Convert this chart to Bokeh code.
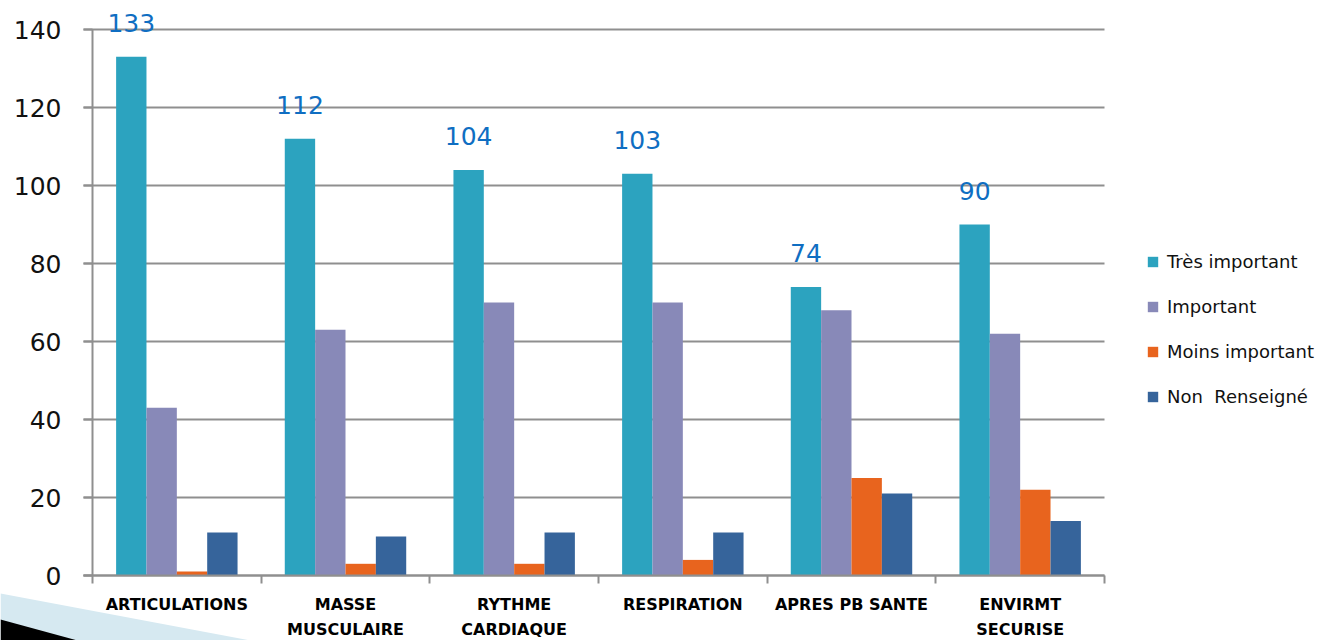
from bokeh.plotting import figure
from bokeh.models import (ColumnDataSource, FixedTicker, Legend, LegendItem,
                          PolyAnnotation, Range1d)
from bokeh.core.properties import value
from bokeh.embed import file_html
from bokeh.resources import INLINE

# Survey answers per theme
categories = ["ARTICULATIONS", "MASSE\nMUSCULAIRE", "RYTHME\nCARDIAQUE",
              "RESPIRATION", "APRES PB SANTE", "ENVIRMT\nSECURISE"]
series_names = ["Très important", "Important", "Moins important", "Non  Renseigné"]
tres_important = [133, 112, 104, 103, 74, 90]
important = [43, 63, 70, 70, 68, 62]
moins_important = [1, 3, 3, 4, 25, 22]
non_renseigne = [11, 10, 11, 11, 21, 14]
y_ticks = [0, 20, 40, 60, 80, 100, 120, 140]

series = [tres_important, important, moins_important, non_renseigne]
colors = ["#2CA3BF", "#8889B8", "#E8641E", "#36649B"]

W, H = 1317, 640
# pixel geometry: y axis at x=92, last group ends at x=1104, zero line at y=575
AXIS_PX, RIGHT_PX, ZERO_PX, PX_PER_UNIT = 92, 1104, 575, 3.9
TICK_OUT = 9
n = len(categories)
px_per_cat = (RIGHT_PX - AXIS_PX) / n

# the plotting frame covers the whole canvas; axes are pinned inside it
x_start = -AXIS_PX / px_per_cat
x_end = (W - AXIS_PX) / px_per_cat
y_start = -(H - ZERO_PX) / PX_PER_UNIT
y_end = ZERO_PX / PX_PER_UNIT
grid_start = -TICK_OUT / px_per_cat

BAR_W = 0.18
offsets = [-1.5 * BAR_W, -0.5 * BAR_W, 0.5 * BAR_W, 1.5 * BAR_W]
centers = [i + 0.5 for i in range(n)]

p = figure(width=W, height=H, output_backend="svg", toolbar_location=None,
           x_range=Range1d(x_start, x_end), y_range=Range1d(y_start, y_end),
           min_border=0, min_border_left=0, min_border_right=0,
           min_border_top=0, min_border_bottom=0)
p.outline_line_color = None
p.background_fill_color = "white"
p.border_fill_color = "white"

GRAY = "#8F8F8F"

# Horizontal grid, limited to the plotting area
p.xgrid.visible = False
p.ygrid.ticker = FixedTicker(ticks=y_ticks)
p.ygrid.cross_bounds = (grid_start, n)
p.ygrid.grid_line_color = GRAY
p.ygrid.grid_line_width = 2

# Y axis pinned at x = 0
yax = p.yaxis[0]
yax.fixed_location = 0
yax.ticker = FixedTicker(ticks=y_ticks)
yax.bounds = (0, 140)
yax.axis_line_color = GRAY
yax.axis_line_width = 2
yax.major_tick_line_color = GRAY
yax.major_tick_line_width = 2
yax.major_tick_out = TICK_OUT
yax.major_tick_in = 0
yax.minor_tick_line_color = None
yax.major_label_standoff = 22
yax.major_label_text_font = "DejaVu Sans"
yax.major_label_text_font_size = "25px"
yax.major_label_text_color = "#111111"

# X axis pinned at y = 0: labels at group centres, ticks at group boundaries
xax = p.xaxis[0]
xax.fixed_location = 0
xax.ticker = FixedTicker(ticks=centers, minor_ticks=list(range(n + 1)))
xax.major_label_overrides = {c: lab for c, lab in zip(centers, categories)}
xax.bounds = (grid_start, n)
xax.axis_line_color = GRAY
xax.axis_line_width = 2
xax.major_tick_line_color = None
xax.major_tick_out = 0
xax.major_tick_in = 0
xax.minor_tick_line_color = GRAY
xax.minor_tick_line_width = 2
xax.minor_tick_out = 8
xax.minor_tick_in = 0
xax.major_label_standoff = 11
xax.major_label_text_font = "DejaVu Sans"
xax.major_label_text_font_style = "bold"
xax.major_label_text_font_size = "16px"
xax.major_label_text_color = "#000000"
xax.major_label_text_line_height = 1.35

# Bars
items = []
for name, vals, col, off in zip(series_names, series, colors, offsets):
    src = ColumnDataSource(dict(x=[c + off for c in centers], top=vals))
    r = p.vbar(x="x", top="top", width=BAR_W, source=src,
               fill_color=col, line_color=None)
    items.append(LegendItem(label=name, renderers=[r]))

# Value labels above the "Très important" bars
lab_src = ColumnDataSource(dict(x=[c + offsets[0] for c in centers], y=tres_important,
                                t=[str(v) for v in tres_important]))
p.text(x="x", y="y", text="t", source=lab_src, text_align="center",
       text_baseline="middle", y_offset=-34, text_color="#0F6EC2",
       text_font=value("DejaVu Sans"), text_font_size="25px")

legend = Legend(items=items, location=(1146, H - 407), orientation="vertical",
                glyph_width=13, glyph_height=13, label_height=20, spacing=24,
                label_standoff=8, padding=0, margin=0,
                label_text_font="DejaVu Sans",
                label_text_font_size="18px", label_text_color="#111111",
                border_line_color=None, background_fill_alpha=0)
p.add_layout(legend)

# Slide corner decoration
p.add_layout(PolyAnnotation(xs=[0, 250, 0], ys=[593, 640, 640],
                            xs_units="canvas", ys_units="canvas",
                            fill_color="#D6E9F1", fill_alpha=1, line_color=None))
p.add_layout(PolyAnnotation(xs=[0, 77, 0], ys=[619, 640, 640],
                            xs_units="canvas", ys_units="canvas",
                            fill_color="#000000", fill_alpha=1, line_color=None))

open("out.html", "w").write(file_html(p, INLINE))
